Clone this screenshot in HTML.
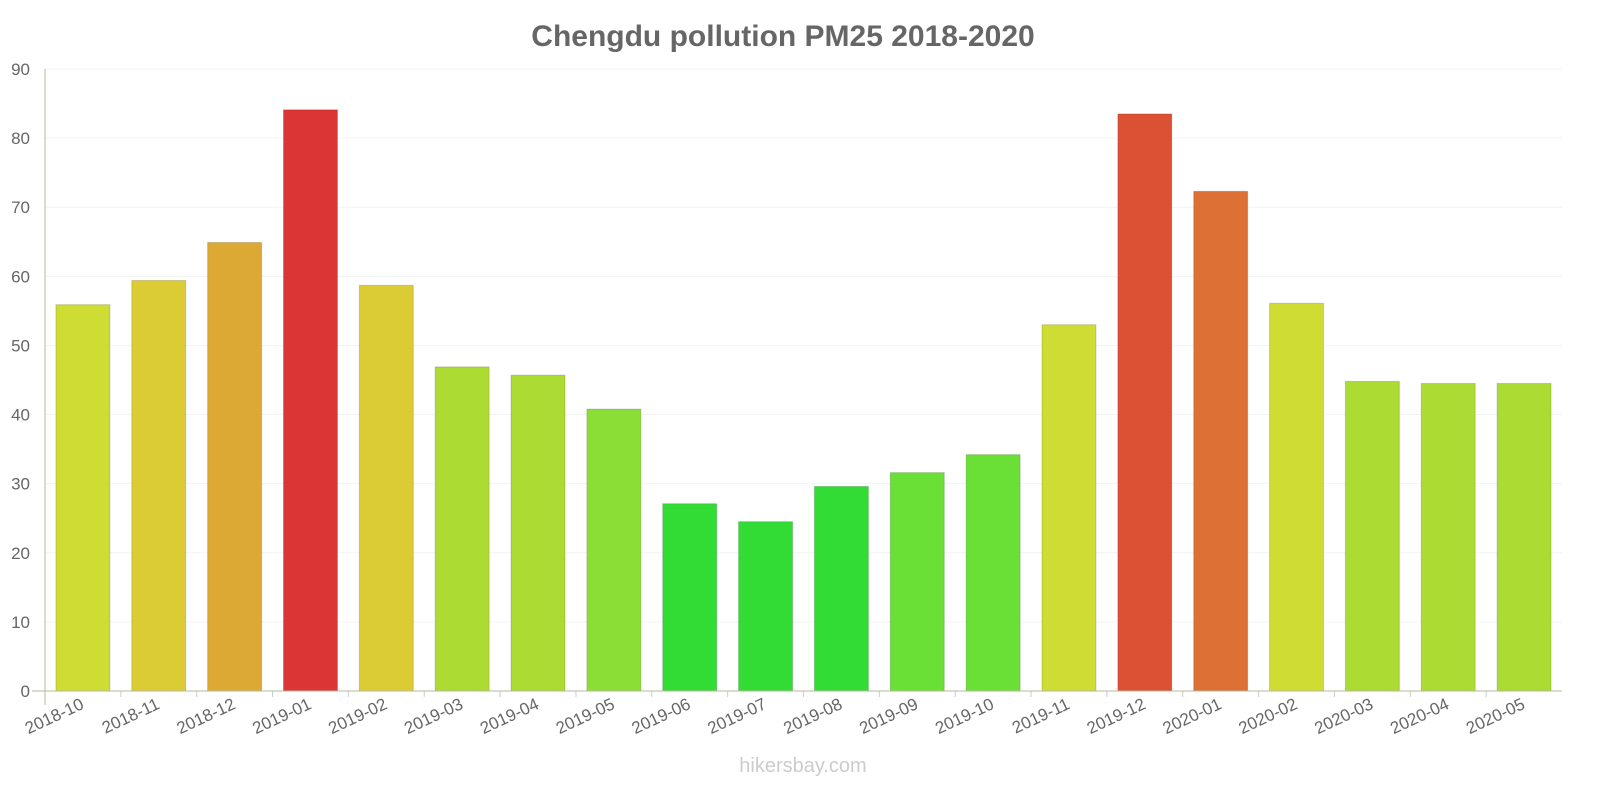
<!DOCTYPE html>
<html><head><meta charset="utf-8">
<style>
html,body{margin:0;padding:0;background:#fff;font-family:"Liberation Sans",sans-serif;overflow:hidden;width:1600px;height:800px;}
svg{display:block;}
svg text{font-family:"Liberation Sans",sans-serif;}
</style></head>
<body>
<svg id="chart" width="1600" height="800" xmlns="http://www.w3.org/2000/svg">
<rect width="1600" height="800" fill="#fff"/>
<text x="783" y="46" text-anchor="middle" font-size="30" font-weight="bold" fill="#666">Chengdu pollution PM25 2018-2020</text>
<g id="grid"></g>
<g id="bars"></g>
<g id="yticks"></g>
<g id="xticks"></g>
<line x1="45" y1="69" x2="45" y2="705" stroke="#b5b89a" stroke-width="1"/>
<line x1="32" y1="691" x2="1562" y2="691" stroke="#b5b89a" stroke-width="1"/>
<text x="803" y="772" text-anchor="middle" font-size="20" fill="#ccc">hikersbay.com</text>
</svg>
<script>
const categories=["2018-10","2018-11","2018-12","2019-01","2019-02","2019-03","2019-04","2019-05","2019-06","2019-07","2019-08","2019-09","2019-10","2019-11","2019-12","2020-01","2020-02","2020-03","2020-04","2020-05"];
const values=[55.9,59.4,64.9,84.1,58.7,46.9,45.7,40.8,27.1,24.5,29.6,31.6,34.2,53,83.5,72.3,56.1,44.8,44.5,44.5];
const colors=["#cfdc34","#dbcb35","#dca935","#db3535","#dbcb35","#acdc34","#acdc34","#8ade35","#33dc35","#33dc35","#33dc35","#6adf35","#6adf35","#cfdc34","#dc5034","#dd7035","#cfdc34","#acdc34","#acdc34","#acdc34"];
const yTicks=[0,10,20,30,40,50,60,70,80,90];
const NS="http://www.w3.org/2000/svg";
const x0=45,x1=1562,yBase=691,yTop=69,yMax=90;
const band=(x1-x0)/categories.length;
function y(v){return yBase-(v/yMax)*(yBase-yTop);}
function xc(i){return x0+band*(i+0.5);}
const grid=document.getElementById('grid'),yt=document.getElementById('yticks'),bars=document.getElementById('bars'),xt=document.getElementById('xticks');
yTicks.forEach(t=>{
 const l=document.createElementNS(NS,'line');
 
 
 l.setAttribute('x1',x0);l.setAttribute('x2',x1);l.setAttribute('y1',y(t));l.setAttribute('y2',y(t));
 l.setAttribute('stroke','#f3f3f3');grid.appendChild(l);
 const tx=document.createElementNS(NS,'text');
 
 
 tx.setAttribute('x',30);tx.setAttribute('y',y(t)+6);tx.setAttribute('text-anchor','end');
 tx.setAttribute('font-size','17');tx.setAttribute('fill','#666');tx.textContent=t;yt.appendChild(tx);
});
categories.forEach((c,i)=>{
 const w=54,cx=xc(i);
 const r=document.createElementNS(NS,'rect');
 
 
 r.setAttribute('x',cx-w/2);r.setAttribute('y',y(values[i]));r.setAttribute('width',w);r.setAttribute('height',yBase-y(values[i]));
 r.setAttribute('fill',colors[i]);r.setAttribute('stroke','rgba(0,0,0,0.15)');bars.appendChild(r);
 const tk=document.createElementNS(NS,'line');
 
 
 tk.setAttribute('x1',x0+band*i);tk.setAttribute('x2',x0+band*i);tk.setAttribute('y1',691);tk.setAttribute('y2',697);tk.setAttribute('stroke','#ccc');xt.appendChild(tk);
 const tx=document.createElementNS(NS,'text');
 
 
 tx.setAttribute('x',cx+2);tx.setAttribute('y',708);tx.setAttribute('text-anchor','end');
 tx.setAttribute('font-size','17');tx.setAttribute('fill','#666');
 tx.setAttribute('transform','rotate(-25 '+(cx+2)+' 708)');tx.textContent=c;xt.appendChild(tx);
});
</script>
</body></html>
